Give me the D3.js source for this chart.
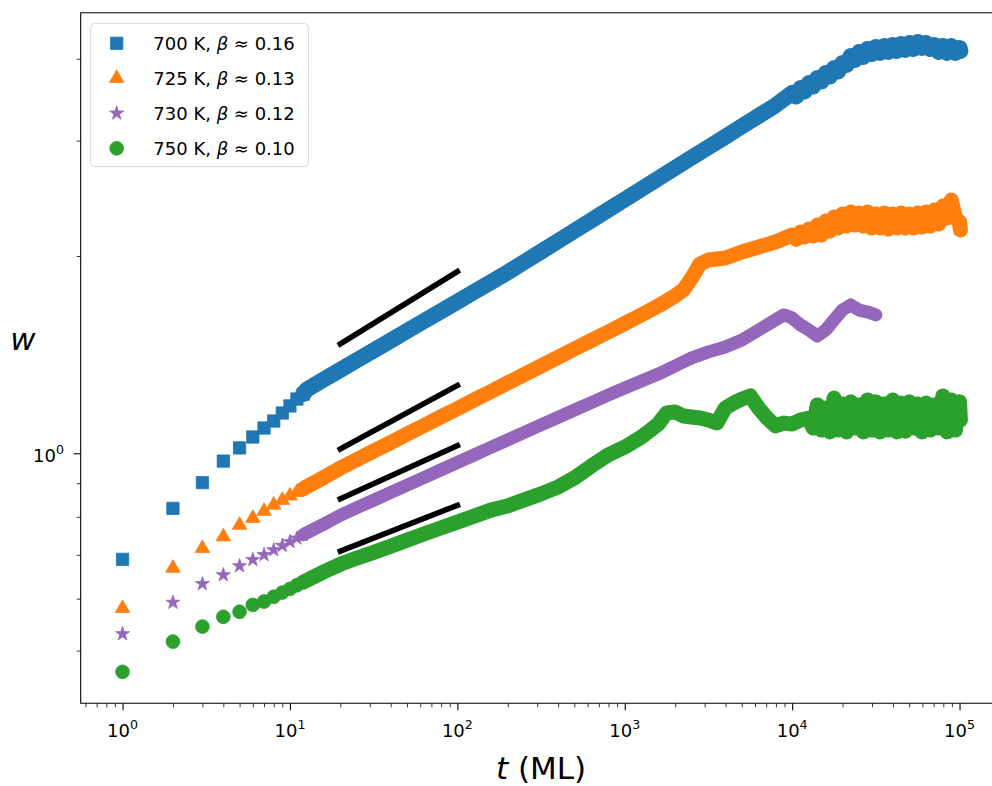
<!DOCTYPE html>
<html>
<head>
<meta charset="utf-8">
<script src="https://cdn.jsdelivr.net/npm/d3@7"></script>
<style>
  body { margin: 0; background: #fff; }
  svg { display: block; }
  text { font-family: "DejaVu Sans", sans-serif; fill: #000; }
</style>
</head>
<body>
<svg id="chart" width="992" height="786"></svg>
<script>
// ---- data: roughness w versus deposition time t (monolayers) ----
const seriesLabels = ["700 K", "725 K", "730 K", "750 K"];
const betaLabels = ["0.16", "0.13", "0.12", "0.10"];
const seriesColors = ["#1f77b4", "#ff7f0e", "#9467bd", "#2ca02c"];

const t700 = [1,2,3,4,5,6,7,8,9,10,11,12,
  12.59,15.85,19.95,25.12,31.62,39.81,50.12,63.10,79.43,100,125.9,158.5,199.5,251.2,316.2,398.1,501.2,631.0,794.3,
  1000,1259,1585,1995,2512,3162,3981,5012,6310,7943,
  10000,10593,11220,11885,12589,13335,14125,14962,15849,16788,17783,18836,19953,21135,22387,23714,25119,26607,28184,29854,
  31623,33497,35481,37584,39811,42170,44668,47315,50119,53088,56234,59566,63096,66834,70795,74989,79433,84140,89125,94406,100000,101158];
const w700 = [0.689,0.824,0.902,0.973,1.019,1.059,1.093,1.120,1.152,1.181,1.210,1.231,
  1.251,1.295,1.340,1.387,1.435,1.485,1.537,1.591,1.646,1.703,1.763,1.824,1.888,1.958,2.031,2.107,2.186,2.267,2.352,
  2.440,2.531,2.626,2.724,2.827,2.931,3.040,3.155,3.272,3.395,
  3.546,3.503,3.609,3.565,3.673,3.628,3.738,3.692,3.805,3.758,3.872,3.825,3.941,3.913,4.039,3.983,4.096,4.025,4.139,4.067,
  4.169,4.082,4.183,4.096,4.198,4.110,4.213,4.125,4.228,4.139,4.243,4.154,4.228,4.139,4.198,4.096,4.183,4.082,4.183,4.082,4.154,4.110];

const t725 = [1,2,3,4,5,6,7,8,9,10,11,12,
  12.59,15.85,19.95,25.12,31.62,39.81,50.12,63.10,79.43,100,125.9,158.5,199.5,251.2,316.2,398.1,501.2,631.0,794.3,
  1000,1259,1585,1995,2239,2512,2818,3162,3981,5012,6310,7943,
  10000,10593,11220,11885,12589,13335,14125,14962,15849,16788,17783,18836,19953,21135,22387,23714,25119,26607,28184,29854,
  31623,33497,35481,37584,39811,42170,44668,47315,50119,53088,56234,59566,63096,66834,70795,74989,79433,84140,89125,94406,100000,101158];
const w725 = [0.580,0.668,0.716,0.746,0.777,0.796,0.816,0.834,0.848,0.861,0.872,0.883,
  0.889,0.918,0.949,0.978,1.008,1.038,1.070,1.102,1.136,1.170,1.206,1.242,1.280,1.319,1.359,1.400,1.443,1.486,1.531,
  1.578,1.626,1.678,1.738,1.775,1.851,1.945,1.972,1.986,2.028,2.064,2.101,
  2.153,2.120,2.176,2.138,2.199,2.146,2.230,2.153,2.262,2.183,2.294,2.207,2.318,2.222,2.334,2.230,2.326,2.222,2.334,2.207,
  2.318,2.207,2.326,2.199,2.318,2.207,2.326,2.207,2.318,2.207,2.326,2.214,2.334,2.222,2.351,2.238,2.384,2.286,2.435,2.286,2.254,2.191];

const t730 = [1,2,3,4,5,6,7,8,9,10,11,12,
  12.59,15.85,19.95,25.12,31.62,39.81,50.12,63.10,79.43,100,125.9,158.5,199.5,251.2,316.2,398.1,501.2,631.0,794.3,
  1000,1259,1585,1995,2512,3162,3981,5012,6310,7943,8913,10000,11220,12589,14125,15849,17783,19953,22387,25119,28184,31623];
const w730 = [0.530,0.592,0.632,0.652,0.673,0.688,0.700,0.712,0.723,0.733,0.742,0.751,
  0.756,0.779,0.804,0.826,0.848,0.871,0.894,0.918,0.943,0.968,0.994,1.021,1.048,1.076,1.105,1.134,1.164,1.195,1.227,
  1.258,1.289,1.321,1.359,1.398,1.428,1.453,1.489,1.542,1.598,1.626,1.609,1.570,1.542,1.510,1.542,1.598,1.654,1.684,1.654,1.643,1.626];

const t750 = [1,2,3,4,5,6,7,8,9,10,11,12,
  12.59,15.85,19.95,25.12,31.62,39.81,50.12,63.10,79.43,100,125.9,158.5,199.5,251.2,316.2,398.1,501.2,631.0,794.3,
  1000,1259,1585,
  1778,1995,2239,2512,2818,3162,3548,3981,4467,5012,5623,6310,7079,7943,8913,10000,11220,12589,
  13335,14125,14962,15849,16788,17783,18836,19953,21135,22387,23714,25119,26607,28184,29854,
  31623,33497,35481,37584,39811,42170,44668,47315,50119,53088,56234,59566,63096,66834,70795,74989,79433,84140,89125,94406,100000,101158];
const w750 = [0.464,0.516,0.544,0.563,0.573,0.587,0.594,0.604,0.613,0.621,0.629,0.636,
  0.640,0.659,0.677,0.692,0.706,0.721,0.737,0.753,0.769,0.785,0.802,0.819,0.831,0.849,0.867,0.888,0.917,0.956,0.994,
  1.022,1.059,1.108,
  1.152,1.156,1.140,1.136,1.132,1.124,1.112,1.172,1.193,1.210,1.223,1.172,1.132,1.101,1.112,1.108,1.124,1.132,
  1.093,1.185,1.085,1.172,1.078,1.214,1.085,1.189,1.078,1.198,1.093,1.185,1.078,1.206,1.085,
  1.198,1.078,1.189,1.085,1.206,1.078,1.193,1.081,1.198,1.093,1.189,1.078,1.193,1.085,1.185,1.093,1.223,1.078,1.206,1.085,1.198,1.124];

// power-law guide segments, t from 20 to 100
const guideT = [20, 100];
const guideW = [[1.469, 1.894], [1.015, 1.269], [0.852, 1.027], [0.709, 0.833]];

const xMajorTicks = [1, 10, 100, 1000, 10000, 100000];
const xTickExponents = ["0", "1", "2", "3", "4", "5"];
const yMajorTicks = [1];
const yTickExponents = ["0"];

// ---- layout ----
const svg = d3.select("#chart");
const plot = { left: 80.7, right: 1001.4, top: 12.7, bottom: 703.3 };

const x = d3.scaleLog()
  .domain([Math.pow(10, -0.25), Math.pow(10, 5.25)])
  .range([plot.left, plot.right]);
const y = d3.scaleLog()
  .domain([Math.pow(10, -0.3815), Math.pow(10, 0.6723)])
  .range([plot.bottom, plot.top]);

svg.append("defs").append("clipPath").attr("id", "plotClip")
  .append("rect")
  .attr("x", plot.left).attr("y", plot.top)
  .attr("width", plot.right - plot.left).attr("height", plot.bottom - plot.top);

const series = [
  { t: t700, w: w700, symbol: d3.symbolSquare, size: 152, band: 16 },
  { t: t725, w: w725, symbol: d3.symbolTriangle, size: 92, band: 15 },
  { t: t730, w: w730, symbol: d3.symbolStar, size: 62, band: 13 },
  { t: t750, w: w750, symbol: d3.symbolCircle, size: 150, band: 15 }
].map((s, i) => ({ ...s, label: seriesLabels[i], beta: betaLabels[i], color: seriesColors[i] }));

const dataLayer = svg.append("g").attr("clip-path", "url(#plotClip)");
const bandLine = d3.line().x(d => x(d[0])).y(d => y(d[1]));
const bandStart = 12;   // from here on the markers merge into a continuous band

series.forEach(s => {
  const pts = s.t.map((t, i) => [t, s.w[i]]);
  const g = dataLayer.append("g");
  g.append("path")
    .datum(pts.filter(d => d[0] >= bandStart))
    .attr("d", bandLine)
    .attr("fill", "none")
    .attr("stroke", s.color)
    .attr("stroke-width", s.band)
    .attr("stroke-linejoin", "round")
    .attr("stroke-linecap", "round");
  g.selectAll("path.mk")
    .data(pts.filter(d => d[0] <= bandStart))
    .join("path")
    .attr("class", "mk")
    .attr("transform", d => `translate(${x(d[0])},${y(d[1])})`)
    .attr("d", d3.symbol(s.symbol, s.size))
    .attr("fill", s.color)
    .attr("stroke", s.color)
    .attr("stroke-width", 0.8);
});

// guide lines
guideW.forEach(gw => {
  dataLayer.append("line")
    .attr("x1", x(guideT[0])).attr("y1", y(gw[0]))
    .attr("x2", x(guideT[1])).attr("y2", y(gw[1]))
    .attr("stroke", "#000")
    .attr("stroke-width", 5.6)
    .attr("stroke-linecap", "square");
});

// ---- axes ----
const xMinor = [];
for (let e = -1; e <= 5; e++) {
  for (let m = 2; m <= 9; m++) {
    const v = m * Math.pow(10, e);
    if (v > x.domain()[0] && v < x.domain()[1]) xMinor.push(v);
  }
}
const yMinor = [];
for (let e = -1; e <= 0; e++) {
  for (let m = 2; m <= 9; m++) {
    const v = m * Math.pow(10, e);
    if (v > y.domain()[0] && v < y.domain()[1]) yMinor.push(v);
  }
}

const axes = svg.append("g");
const xMinorAxis = d3.axisBottom(x).tickValues(xMinor).tickSize(4).tickFormat("");
const xMajorAxis = d3.axisBottom(x).tickValues(xMajorTicks).tickSize(7).tickFormat("");
const yMinorAxis = d3.axisLeft(y).tickValues(yMinor).tickSize(4).tickFormat("");
const yMajorAxis = d3.axisLeft(y).tickValues(yMajorTicks).tickSize(7).tickFormat("");

function styleAxis(g, w) {
  g.select(".domain").remove();
  g.selectAll(".tick line").attr("stroke", "#000").attr("stroke-width", w);
}
axes.append("g").attr("transform", `translate(0,${plot.bottom})`).call(xMinorAxis).call(g => styleAxis(g, 0.8));
axes.append("g").attr("transform", `translate(0,${plot.bottom})`).call(xMajorAxis).call(g => styleAxis(g, 1.1));
axes.append("g").attr("transform", `translate(${plot.left},0)`).call(yMinorAxis).call(g => styleAxis(g, 0.8));
axes.append("g").attr("transform", `translate(${plot.left},0)`).call(yMajorAxis).call(g => styleAxis(g, 1.1));

// frame
axes.append("path")
  .attr("d", `M${plot.left},${plot.top}H${plot.right}V${plot.bottom}H${plot.left}Z`)
  .attr("fill", "none")
  .attr("stroke", "#000")
  .attr("stroke-width", 1.1);

// tick labels as powers of ten
xMajorTicks.forEach((v, i) => {
  const txt = axes.append("text")
    .attr("x", x(v)).attr("y", 736.5)
    .attr("text-anchor", "middle")
    .attr("font-size", 18)
    .attr("fill", "#222");
  txt.append("tspan").text("10");
  txt.append("tspan").attr("font-size", 12.6).attr("dy", -8).text(xTickExponents[i]);
});
yMajorTicks.forEach((v, i) => {
  const txt = axes.append("text")
    .attr("x", 64).attr("y", y(v) + 9)
    .attr("text-anchor", "end")
    .attr("font-size", 18)
    .attr("fill", "#222");
  txt.append("tspan").text("10");
  txt.append("tspan").attr("font-size", 12.6).attr("dy", -8).text(yTickExponents[i]);
});

// axis titles
const xTitle = svg.append("text")
  .attr("x", (plot.left + plot.right) / 2).attr("y", 779)
  .attr("text-anchor", "middle")
  .attr("font-size", 31);
xTitle.append("tspan").attr("font-style", "italic").text("t");
xTitle.append("tspan").text(" (ML)");

svg.append("text")
  .attr("x", 23).attr("y", 350)
  .attr("text-anchor", "middle")
  .attr("font-size", 31)
  .attr("font-style", "italic")
  .text("w");

// ---- legend ----
const legend = svg.append("g");
legend.append("rect")
  .attr("x", 90.7).attr("y", 23.3)
  .attr("width", 217.6).attr("height", 143.4)
  .attr("rx", 4)
  .attr("fill", "#fff").attr("fill-opacity", 0.8)
  .attr("stroke", "#d6d6d6").attr("stroke-width", 1);

series.forEach((s, i) => {
  const cy = 43.3 + i * 35;
  legend.append("path")
    .attr("transform", `translate(116.7,${cy})`)
    .attr("d", d3.symbol(s.symbol, s.size))
    .attr("fill", s.color)
    .attr("stroke", s.color)
    .attr("stroke-width", 0.8);
  const txt = legend.append("text")
    .attr("x", 153.3).attr("y", cy + 6.5)
    .attr("font-size", 18)
    .attr("fill", "#222");
  txt.append("tspan").text(s.label + ", ");
  txt.append("tspan").attr("font-style", "italic").text("β");
  txt.append("tspan").text(" ≈ " + s.beta);
});
</script>
</body>
</html>
